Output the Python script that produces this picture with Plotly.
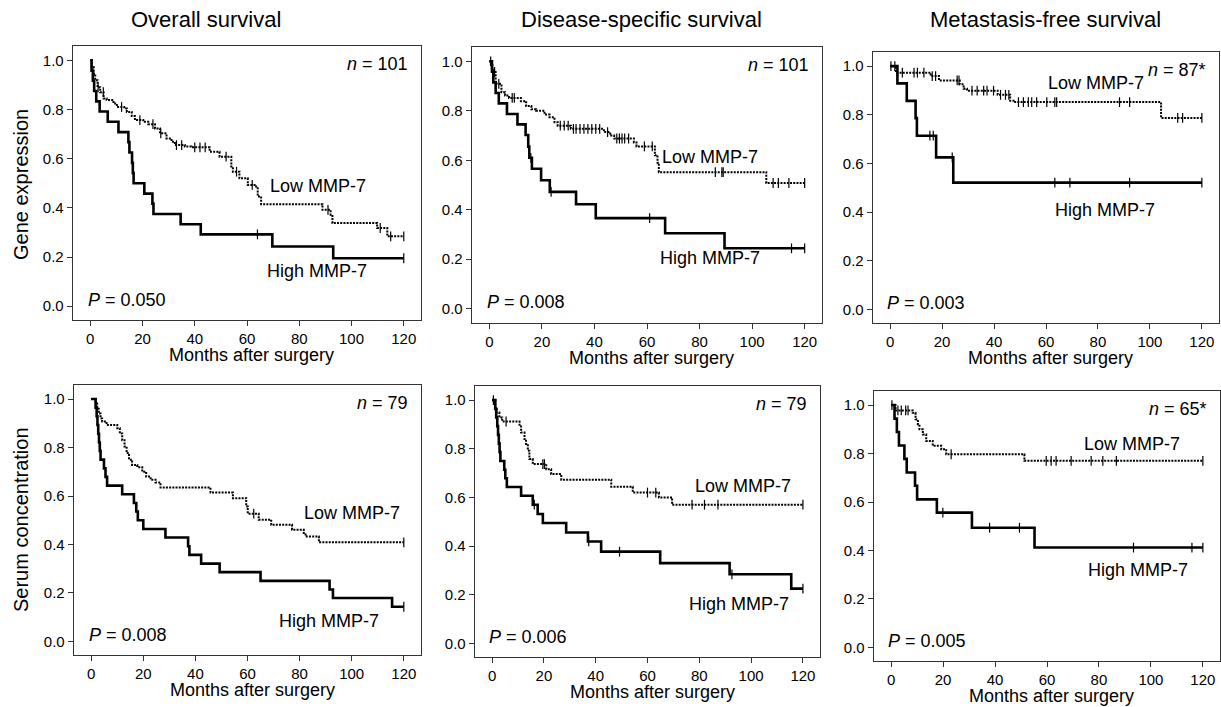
import numpy as np
import plotly.graph_objects as go

# ---------------- data ----------------
col_titles = ["Overall survival", "Disease-specific survival", "Metastasis-free survival"]
row_titles = ["Gene expression", "Serum concentration"]
n_labels = ["101", "101", "87*", "79", "79", "65*"]
p_labels = ["0.050", "0.008", "0.003", "0.008", "0.006", "0.005"]
x_ticks = [0, 20, 40, 60, 80, 100, 120]
y_ticks = [0.0, 0.2, 0.4, 0.6, 0.8, 1.0]

# Panel 1: overall survival, gene expression
os_gene_high_t = [0.5, 1.0, 1.5, 2.3, 3.6, 6.7, 10.8, 14.6, 15.0, 16.0, 16.3, 16.6, 20.7, 23.8, 24.2, 34.6, 42.3, 69.7, 93.0]
os_gene_high_s = [0.958, 0.917, 0.875, 0.833, 0.792, 0.750, 0.708, 0.667, 0.625, 0.583, 0.542, 0.500, 0.458, 0.417, 0.375, 0.333, 0.292, 0.243, 0.195]
os_gene_high_c = [64, 120]
os_gene_low_t = [0.6, 1.3, 1.9, 2.8, 3.8, 5.1, 6.3, 8.9, 10.2, 13.0, 14.0, 15.9, 17.1, 20.3, 22.2, 24.8, 26.7, 29.2, 31.1, 32.4, 36.2, 38.7, 45.7, 49.5, 54.0, 54.6, 57.1, 60.3, 63.5, 64.1, 65.4, 88.9, 92.0, 92.7, 109.8, 113.7]
os_gene_low_s = [0.973, 0.946, 0.919, 0.890, 0.870, 0.845, 0.838, 0.824, 0.810, 0.804, 0.790, 0.773, 0.757, 0.750, 0.740, 0.723, 0.703, 0.682, 0.669, 0.655, 0.649, 0.646, 0.628, 0.608, 0.568, 0.547, 0.520, 0.493, 0.480, 0.446, 0.415, 0.392, 0.372, 0.338, 0.318, 0.284]
os_gene_low_c = [3, 5, 12, 19, 24, 27, 33, 35, 40, 42, 44, 52, 56, 62, 91, 111, 115, 120]

# Panel 2: disease-specific survival, gene expression
dss_gene_high_t = [1.0, 1.5, 2.4, 3.6, 6.7, 10.7, 13.8, 14.8, 15.2, 16.2, 19.7, 23.0, 33.0, 40.5, 66.9, 89.5]
dss_gene_high_s = [0.958, 0.915, 0.872, 0.830, 0.787, 0.745, 0.702, 0.655, 0.610, 0.566, 0.519, 0.472, 0.422, 0.366, 0.305, 0.244]
dss_gene_high_c = [15.8, 23.5, 61, 115, 120]
dss_gene_low_t = [0.6, 1.2, 1.8, 2.4, 4.6, 6.0, 7.5, 12.0, 14.0, 16.0, 17.8, 21.0, 22.9, 24.8, 26.0, 31.0, 43.6, 46.0, 47.5, 55.0, 56.0, 63.0, 64.0, 64.5, 105.4]
dss_gene_low_s = [0.990, 0.970, 0.957, 0.909, 0.875, 0.862, 0.852, 0.839, 0.819, 0.806, 0.800, 0.785, 0.774, 0.754, 0.740, 0.727, 0.714, 0.700, 0.688, 0.672, 0.656, 0.620, 0.590, 0.552, 0.508]
dss_gene_low_c = [0.5, 2, 3.6, 8.7, 9.5, 27, 28.5, 30, 32, 33, 34.5, 36, 37.5, 39, 40.5, 42, 45, 48.5, 49.5, 50.5, 51.5, 53, 59, 62, 86, 88.5, 89, 108, 110, 114, 120]

# Panel 3: metastasis-free survival, gene expression
mfs_gene_high_t = [2.8, 6.4, 9.8, 10.3, 17.7, 24.3]
mfs_gene_high_s = [0.929, 0.857, 0.786, 0.714, 0.625, 0.521]
mfs_gene_high_c = [15.3, 16.6, 23.9, 63.4, 69.2, 92.2, 120]
mfs_gene_low_t = [2.2, 15.6, 18.8, 26.8, 28.3, 29.6, 41.4, 46.2, 47.5, 104.3]
mfs_gene_low_s = [0.973, 0.959, 0.941, 0.925, 0.907, 0.899, 0.882, 0.858, 0.852, 0.787]
mfs_gene_low_c = [0.3, 1.8, 4.7, 9.2, 10.5, 13, 16.2, 17.5, 25.8, 26.5, 31.5, 33.5, 36, 37.3, 39.8, 42.5, 44.4, 45.7, 49.4, 51.3, 53.2, 54.5, 56.4, 60.3, 63.4, 64.1, 88.3, 92.2, 110.7, 112.6, 120]

# Panel 4: overall survival, serum concentration
os_serum_high_t = [1.7, 2.1, 2.4, 2.7, 3.0, 3.3, 3.6, 4.9, 5.5, 6.1, 11.9, 16.4, 17.3, 17.9, 20.0, 28.5, 37.2, 37.7, 42.2, 49.3, 65.0, 91.5, 92.8, 115.5]
os_serum_high_s = [0.964, 0.929, 0.893, 0.857, 0.821, 0.786, 0.750, 0.714, 0.679, 0.643, 0.607, 0.571, 0.536, 0.500, 0.464, 0.429, 0.393, 0.357, 0.321, 0.286, 0.250, 0.214, 0.179, 0.143]
os_serum_high_c = [120]
os_serum_low_t = [1.7, 2.3, 2.9, 3.6, 4.2, 5.9, 10.0, 11.0, 11.9, 12.8, 13.6, 14.5, 15.7, 17.7, 19.6, 21.1, 22.8, 24.7, 26.6, 45.8, 54.4, 59.5, 60.1, 64.3, 69.1, 77.1, 81.6, 82.3, 87.4]
os_serum_low_s = [0.982, 0.960, 0.940, 0.920, 0.907, 0.893, 0.880, 0.858, 0.830, 0.804, 0.777, 0.750, 0.728, 0.719, 0.700, 0.680, 0.667, 0.656, 0.635, 0.614, 0.591, 0.557, 0.527, 0.502, 0.481, 0.461, 0.447, 0.433, 0.409]
os_serum_low_c = [62.4, 120]

# Panel 5: disease-specific survival, serum concentration
dss_serum_high_t = [1.2, 1.6, 2.0, 2.3, 2.6, 2.9, 3.2, 4.7, 5.1, 5.7, 11.2, 15.7, 17.6, 19.6, 28.6, 37.0, 42.1, 64.9, 91.7, 115.5]
dss_serum_high_s = [0.964, 0.929, 0.893, 0.857, 0.821, 0.786, 0.750, 0.714, 0.679, 0.643, 0.607, 0.570, 0.532, 0.495, 0.456, 0.419, 0.377, 0.330, 0.284, 0.225]
dss_serum_high_c = [16.3, 37.3, 49.2, 92.6, 120]
dss_serum_low_t = [1.3, 1.8, 2.8, 3.9, 10.6, 11.2, 12.5, 13.1, 13.8, 14.4, 15.7, 20.9, 22.8, 26.7, 46.0, 54.3, 64.4, 69.5]
dss_serum_low_s = [0.970, 0.949, 0.929, 0.912, 0.892, 0.867, 0.840, 0.820, 0.792, 0.758, 0.737, 0.716, 0.696, 0.673, 0.644, 0.620, 0.600, 0.570]
dss_serum_low_c = [0.5, 5.4, 19.6, 20.2, 60, 63.2, 77.2, 82, 87.2, 120]

# Panel 6: metastasis-free survival, serum concentration
mfs_serum_high_t = [1.3, 2.2, 3.0, 5.1, 6.0, 9.2, 10.0, 17.6, 31.1, 55.2]
mfs_serum_high_s = [0.944, 0.889, 0.833, 0.778, 0.722, 0.667, 0.611, 0.556, 0.494, 0.412]
mfs_serum_high_c = [19.9, 37.9, 49.4, 93.3, 115.8, 120]
mfs_serum_low_t = [1.7, 8.3, 9.4, 10.3, 10.9, 12.2, 13.5, 16.0, 19.3, 21.2, 51.3]
mfs_serum_low_s = [0.978, 0.968, 0.941, 0.921, 0.900, 0.879, 0.852, 0.832, 0.818, 0.797, 0.770]
mfs_serum_low_c = [0.3, 2.6, 3.9, 5.6, 6.5, 23.1, 59.7, 61.6, 63.5, 69.3, 77.0, 81.5, 86.7, 120]

panels = [
    (os_gene_high_t, os_gene_high_s, os_gene_high_c, os_gene_low_t, os_gene_low_s, os_gene_low_c),
    (dss_gene_high_t, dss_gene_high_s, dss_gene_high_c, dss_gene_low_t, dss_gene_low_s, dss_gene_low_c),
    (mfs_gene_high_t, mfs_gene_high_s, mfs_gene_high_c, mfs_gene_low_t, mfs_gene_low_s, mfs_gene_low_c),
    (os_serum_high_t, os_serum_high_s, os_serum_high_c, os_serum_low_t, os_serum_low_s, os_serum_low_c),
    (dss_serum_high_t, dss_serum_high_s, dss_serum_high_c, dss_serum_low_t, dss_serum_low_s, dss_serum_low_c),
    (mfs_serum_high_t, mfs_serum_high_s, mfs_serum_high_c, mfs_serum_low_t, mfs_serum_low_s, mfs_serum_low_c),
]

# label positions (data coords): low label (x, y), high label (x, y)
low_pos = [(68, 0.49), (65, 0.613), (60, 0.931), (81, 0.53), (77.5, 0.646), (73.6, 0.838)]
high_pos = [(67, 0.142), (64, 0.203), (62.6, 0.407), (71.4, 0.084), (75.2, 0.163), (75.1, 0.32)]

# ---------------- layout geometry (pixels) ----------------
W, H = 1221, 707
frames = [  # left, top, right, bottom
    (73, 46, 421, 320), (472, 47, 822, 322.5), (873, 52, 1219, 323),
    (74, 385, 421, 655), (475, 386, 820, 657), (874, 391, 1220, 661),
]
XR = [-6.6, 126.6]
YR = [-0.056, 1.058]

FONT = "Liberation Sans, Arial, sans-serif"
fig = go.Figure()


def km_xy(t, s, end):
    xs = [0] + list(t) + [end]
    ys = [1.0] + list(s) + [s[-1]]
    return xs, ys


def surv_at(t, s, c):
    t = np.asarray(t)
    s = np.asarray([1.0] + list(s))
    idx = np.searchsorted(t, np.asarray(c), side="right")
    return s[idx]


censor_marker = dict(symbol="line-ns-open", size=7, color="black", line=dict(color="black", width=1.2))

annotations = []
for i, (ht, hs, hc, lt, ls, lc) in enumerate(panels):
    k = i + 1
    xa = "x" if k == 1 else f"x{k}"
    ya = "y" if k == 1 else f"y{k}"
    end = 120
    # low (dotted)
    xs, ys = km_xy(lt, ls, end)
    fig.add_trace(go.Scatter(x=xs, y=ys, mode="lines", line=dict(color="black", width=2, dash="2px,1.2px", shape="hv"),
                             xaxis=xa, yaxis=ya, showlegend=False, hoverinfo="skip"))
    fig.add_trace(go.Scatter(x=lc, y=surv_at(lt, ls, lc), mode="markers", marker=censor_marker,
                             xaxis=xa, yaxis=ya, showlegend=False, hoverinfo="skip"))
    # high (solid)
    xs, ys = km_xy(ht, hs, end)
    fig.add_trace(go.Scatter(x=xs, y=ys, mode="lines", line=dict(color="black", width=2.6, shape="hv"),
                             xaxis=xa, yaxis=ya, showlegend=False, hoverinfo="skip"))
    fig.add_trace(go.Scatter(x=hc, y=surv_at(ht, hs, hc), mode="markers", marker=censor_marker,
                             xaxis=xa, yaxis=ya, showlegend=False, hoverinfo="skip"))

    l, t, r, b = frames[i]
    axis_common = dict(showline=True, linecolor="#333", linewidth=1.3, mirror=True, ticks="outside",
                       ticklen=5, tickwidth=1, tickcolor="#333", showgrid=False, zeroline=False,
                       tickfont=dict(family=FONT, size=15, color="black"), fixedrange=True)
    fig.update_layout(**{
        ("xaxis" if k == 1 else f"xaxis{k}"): dict(domain=[l / W, r / W], range=XR, anchor=ya,
                                                   tickvals=x_ticks, **axis_common),
        ("yaxis" if k == 1 else f"yaxis{k}"): dict(domain=[1 - b / H, 1 - t / H], range=YR, anchor=xa,
                                                   tickvals=y_ticks, tickformat=".1f", **axis_common),
    })
    fs = 18
    annotations += [
        dict(x=122.5, y=0.985, xref=xa, yref=ya, text=f"<i>n</i> = {n_labels[i]}", showarrow=False,
             xanchor="right", yanchor="middle", font=dict(family=FONT, size=fs, color="black")),
        dict(x=-1.8, y=0.025, xref=xa, yref=ya, text=f"<i>P</i> = {p_labels[i]}", showarrow=False,
             xanchor="left", yanchor="middle", font=dict(family=FONT, size=fs, color="black")),
        dict(x=low_pos[i][0], y=low_pos[i][1], xref=xa, yref=ya, text="Low MMP-7", showarrow=False,
             xanchor="left", yanchor="middle", font=dict(family=FONT, size=fs, color="black")),
        dict(x=high_pos[i][0], y=high_pos[i][1], xref=xa, yref=ya, text="High MMP-7", showarrow=False,
             xanchor="left", yanchor="middle", font=dict(family=FONT, size=fs, color="black")),
        dict(x=(l + r) / 2 / W + 0.004, y=1 - (b + 35) / H, xref="paper", yref="paper", text="Months after surgery",
             showarrow=False, xanchor="center", yanchor="middle", font=dict(family=FONT, size=18, color="black")),
    ]

col_x = [206, 641, 1045]
for j, txt in enumerate(col_titles):
    annotations.append(dict(x=col_x[j] / W, y=1 - 19 / H, xref="paper", yref="paper", text=txt, showarrow=False,
                            xanchor="center", yanchor="middle", font=dict(family=FONT, size=22, color="black")))
row_y = [185, 520]
for j, txt in enumerate(row_titles):
    annotations.append(dict(x=21 / W, y=1 - row_y[j] / H, xref="paper", yref="paper", text=txt, showarrow=False,
                            textangle=-90, xanchor="center", yanchor="middle",
                            font=dict(family=FONT, size=20, color="black")))

fig.update_layout(width=W, height=H, margin=dict(l=0, r=0, t=0, b=0), paper_bgcolor="white",
                  plot_bgcolor="white", annotations=annotations, showlegend=False)

fig.write_html("out.html", config={"displayModeBar": False, "staticPlot": True},
               post_script="document.body.style.margin='0';document.body.style.overflow='hidden';")
